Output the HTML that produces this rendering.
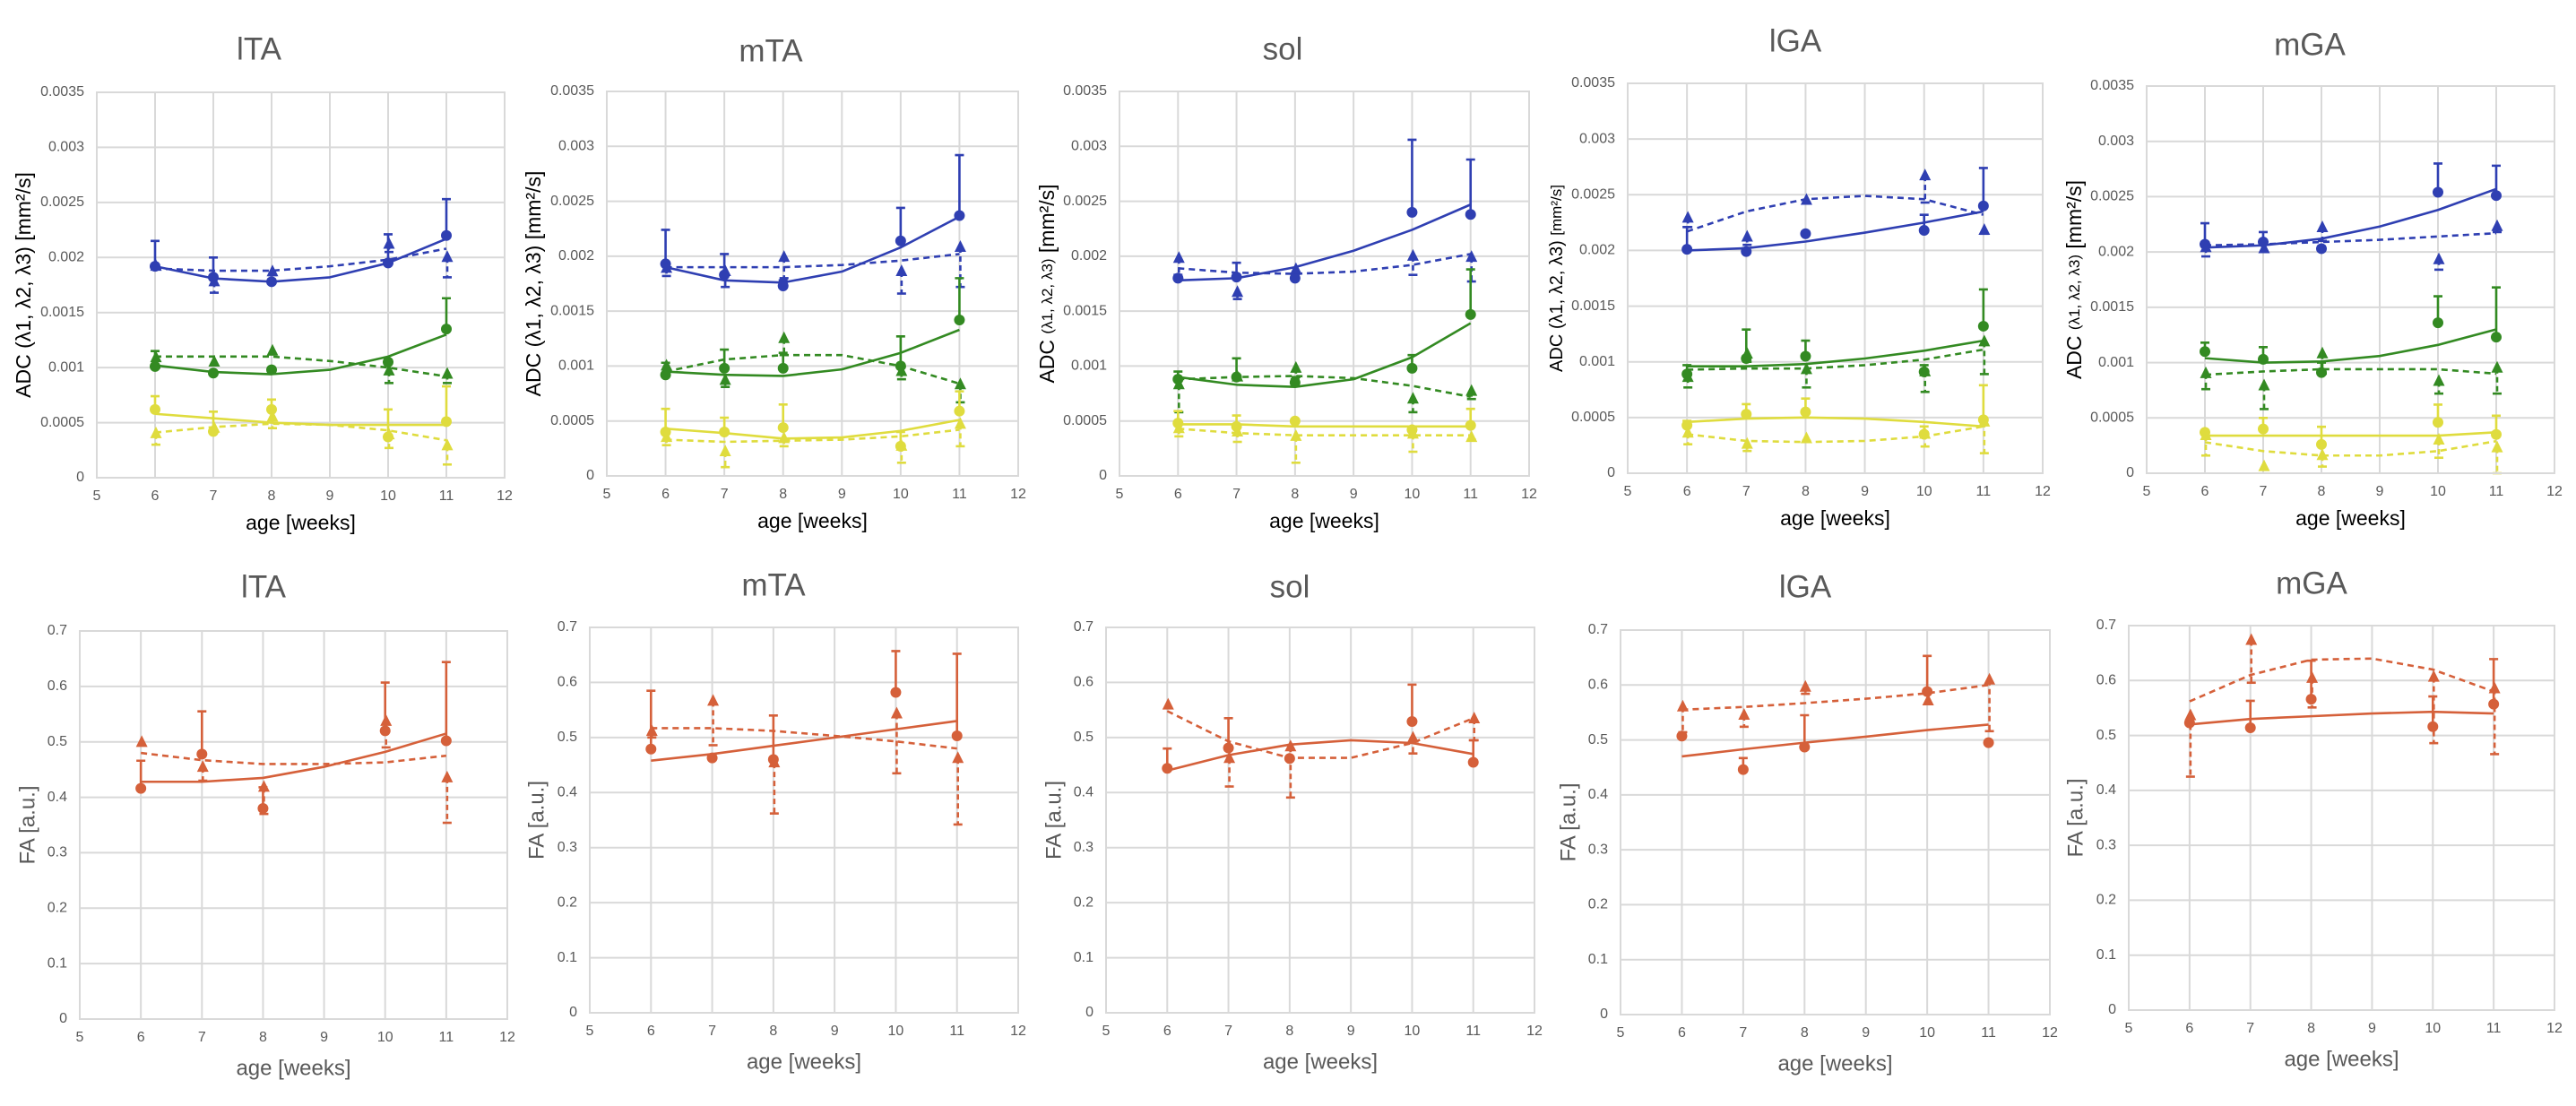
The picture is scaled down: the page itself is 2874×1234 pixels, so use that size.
<!DOCTYPE html>
<html><head><meta charset="utf-8"><title>ADC and FA vs age</title>
<style>
html,body{margin:0;padding:0;background:#fff;}
svg{display:block;font-family:"Liberation Sans",sans-serif;}
</style></head>
<body>
<svg id="fig" xmlns="http://www.w3.org/2000/svg" width="2874" height="1234" viewBox="0 0 2874 1234"></svg>
<script>
// ---------- shared data ----------
const ages = [6, 7, 8, 10, 11];
const fitAges = [6, 7, 8, 9, 10, 11];
const xTicks = [5, 6, 7, 8, 9, 10, 11, 12];
const adcTickLabels = ["0", "0.0005", "0.001", "0.0015", "0.002", "0.0025", "0.003", "0.0035"];
const faTickLabels = ["0", "0.1", "0.2", "0.3", "0.4", "0.5", "0.6", "0.7"];
const muscles = ["lTA", "mTA", "sol", "lGA", "mGA"];

// ADC values in 10^-3 mm²/s
const lTA_blue_circ = [1.92, 1.82, 1.78, 1.95, 2.20];
const lTA_blue_circHi = [2.15, 2.00, 1.80, 2.21, 2.53];
const lTA_blue_tri = [1.92, 1.78, 1.87, 2.12, 2.00];
const lTA_blue_triLo = [1.90, 1.68, 1.84, 2.05, 1.82];
const lTA_blue_fitC = [1.92, 1.81, 1.78, 1.82, 1.95, 2.17];
const lTA_blue_fitT = [1.90, 1.88, 1.88, 1.92, 1.98, 2.08];
const lTA_green_circ = [1.01, 0.95, 0.98, 1.05, 1.35];
const lTA_green_circHi = [1.15, 0.97, 1.00, 1.07, 1.63];
const lTA_green_tri = [1.09, 1.05, 1.15, 0.97, 0.94];
const lTA_green_triLo = [1.00, 1.02, 1.12, 0.86, 0.86];
const lTA_green_fitC = [1.02, 0.96, 0.94, 0.98, 1.10, 1.30];
const lTA_green_fitT = [1.10, 1.10, 1.10, 1.06, 1.00, 0.92];
const lTA_yellow_circ = [0.62, 0.42, 0.62, 0.37, 0.51];
const lTA_yellow_circHi = [0.74, 0.60, 0.71, 0.62, 0.83];
const lTA_yellow_tri = [0.40, 0.45, 0.55, 0.39, 0.29];
const lTA_yellow_triLo = [0.30, 0.42, 0.45, 0.27, 0.12];
const lTA_yellow_fitC = [0.58, 0.54, 0.50, 0.48, 0.48, 0.48];
const lTA_yellow_fitT = [0.41, 0.46, 0.49, 0.48, 0.43, 0.34];
const mTA_blue_circ = [1.93, 1.83, 1.73, 2.14, 2.37];
const mTA_blue_circHi = [2.24, 2.02, 1.78, 2.44, 2.92];
const mTA_blue_tri = [1.89, 1.86, 1.99, 1.86, 2.08];
const mTA_blue_triLo = [1.82, 1.72, 1.80, 1.66, 1.72];
const mTA_blue_fitC = [1.90, 1.78, 1.76, 1.86, 2.08, 2.36];
const mTA_blue_fitT = [1.90, 1.90, 1.90, 1.92, 1.96, 2.02];
const mTA_green_circ = [0.92, 0.98, 0.98, 1.00, 1.42];
const mTA_green_circHi = [1.03, 1.15, 1.12, 1.27, 1.80];
const mTA_green_tri = [1.00, 0.87, 1.25, 0.95, 0.83];
const mTA_green_triLo = [0.97, 0.81, 1.10, 0.88, 0.67];
const mTA_green_fitC = [0.95, 0.92, 0.91, 0.97, 1.12, 1.33];
const mTA_green_fitT = [0.95, 1.06, 1.10, 1.10, 1.00, 0.84];
const mTA_yellow_circ = [0.40, 0.40, 0.44, 0.27, 0.59];
const mTA_yellow_circHi = [0.61, 0.53, 0.65, 0.40, 0.77];
const mTA_yellow_tri = [0.35, 0.22, 0.34, 0.27, 0.47];
const mTA_yellow_triLo = [0.28, 0.08, 0.27, 0.12, 0.27];
const mTA_yellow_fitC = [0.43, 0.39, 0.34, 0.35, 0.41, 0.51];
const mTA_yellow_fitT = [0.33, 0.31, 0.32, 0.33, 0.36, 0.42];
const sol_blue_circ = [1.80, 1.81, 1.80, 2.40, 2.38];
const sol_blue_circHi = [1.83, 1.94, 1.82, 3.06, 2.88];
const sol_blue_tri = [1.98, 1.67, 1.88, 2.00, 1.99];
const sol_blue_triLo = [1.79, 1.61, 1.84, 1.83, 1.77];
const sol_blue_fitC = [1.78, 1.80, 1.90, 2.05, 2.24, 2.47];
const sol_blue_fitT = [1.89, 1.85, 1.84, 1.86, 1.92, 2.02];
const sol_green_circ = [0.88, 0.90, 0.85, 0.98, 1.47];
const sol_green_circHi = [0.95, 1.07, 0.88, 1.10, 1.88];
const sol_green_tri = [0.83, 0.90, 0.98, 0.70, 0.77];
const sol_green_triLo = [0.58, 0.88, 0.90, 0.58, 0.70];
const sol_green_fitC = [0.90, 0.83, 0.81, 0.88, 1.08, 1.39];
const sol_green_fitT = [0.88, 0.90, 0.91, 0.89, 0.82, 0.72];
const sol_yellow_circ = [0.48, 0.45, 0.50, 0.42, 0.46];
const sol_yellow_circHi = [0.59, 0.55, 0.50, 0.45, 0.61];
const sol_yellow_tri = [0.43, 0.40, 0.36, 0.38, 0.35];
const sol_yellow_triLo = [0.36, 0.31, 0.12, 0.22, 0.33];
const sol_yellow_fitC = [0.47, 0.47, 0.45, 0.45, 0.45, 0.45];
const sol_yellow_fitT = [0.43, 0.39, 0.37, 0.37, 0.37, 0.37];
const lGA_blue_circ = [2.01, 1.99, 2.15, 2.18, 2.40];
const lGA_blue_circHi = [2.21, 2.02, 2.17, 2.32, 2.74];
const lGA_blue_tri = [2.29, 2.12, 2.45, 2.67, 2.18];
const lGA_blue_triLo = [2.21, 2.05, 2.43, 2.43, 2.15];
const lGA_blue_fitC = [2.00, 2.02, 2.08, 2.16, 2.25, 2.35];
const lGA_blue_fitT = [2.17, 2.35, 2.46, 2.49, 2.46, 2.32];
const lGA_green_circ = [0.89, 1.03, 1.05, 0.91, 1.32];
const lGA_green_circHi = [0.97, 1.29, 1.19, 0.97, 1.65];
const lGA_green_tri = [0.86, 1.07, 0.93, 0.91, 1.18];
const lGA_green_triLo = [0.77, 1.00, 0.77, 0.73, 0.89];
const lGA_green_fitC = [0.96, 0.96, 0.98, 1.03, 1.10, 1.19];
const lGA_green_fitT = [0.93, 0.94, 0.94, 0.97, 1.02, 1.11];
const lGA_yellow_circ = [0.43, 0.53, 0.55, 0.35, 0.48];
const lGA_yellow_circHi = [0.47, 0.62, 0.67, 0.42, 0.79];
const lGA_yellow_tri = [0.36, 0.26, 0.31, 0.35, 0.46];
const lGA_yellow_triLo = [0.26, 0.20, 0.29, 0.24, 0.18];
const lGA_yellow_fitC = [0.46, 0.49, 0.50, 0.49, 0.46, 0.42];
const lGA_yellow_fitT = [0.35, 0.29, 0.28, 0.29, 0.33, 0.42];
const mGA_blue_circ = [2.07, 2.09, 2.03, 2.54, 2.51];
const mGA_blue_circHi = [2.26, 2.18, 2.05, 2.80, 2.78];
const mGA_blue_tri = [2.04, 2.03, 2.22, 1.93, 2.23];
const mGA_blue_triLo = [1.96, 2.00, 2.10, 1.84, 2.18];
const mGA_blue_fitC = [2.04, 2.06, 2.12, 2.23, 2.38, 2.57];
const mGA_blue_fitT = [2.06, 2.07, 2.09, 2.11, 2.14, 2.17];
const mGA_green_circ = [1.10, 1.03, 0.91, 1.36, 1.23];
const mGA_green_circHi = [1.18, 1.14, 1.00, 1.60, 1.68];
const mGA_green_tri = [0.90, 0.79, 1.08, 0.83, 0.95];
const mGA_green_triLo = [0.76, 0.58, 0.90, 0.72, 0.72];
const mGA_green_fitC = [1.04, 1.00, 1.01, 1.06, 1.16, 1.30];
const mGA_green_fitT = [0.89, 0.92, 0.94, 0.94, 0.94, 0.90];
const mGA_yellow_circ = [0.37, 0.40, 0.26, 0.46, 0.35];
const mGA_yellow_circHi = [0.37, 0.50, 0.42, 0.62, 0.52];
const mGA_yellow_tri = [0.34, 0.06, 0.16, 0.30, 0.23];
const mGA_yellow_triLo = [0.16, 0.06, 0.06, 0.14, 0.00];
const mGA_yellow_fitC = [0.34, 0.34, 0.34, 0.34, 0.34, 0.37];
const mGA_yellow_fitT = [0.28, 0.20, 0.16, 0.16, 0.20, 0.29];

// FA values
const lTA_fa_circ = [0.416, 0.478, 0.380, 0.520, 0.502];
const lTA_fa_circHi = [0.466, 0.555, 0.418, 0.607, 0.644];
const lTA_fa_tri = [0.499, 0.454, 0.418, 0.537, 0.435];
const lTA_fa_triLo = [0.499, 0.430, 0.370, 0.490, 0.354];
const lTA_fa_fitC = [0.428, 0.428, 0.435, 0.455, 0.482, 0.515];
const lTA_fa_fitT = [0.480, 0.467, 0.460, 0.460, 0.463, 0.475];
const mTA_fa_circ = [0.479, 0.463, 0.460, 0.582, 0.503];
const mTA_fa_circHi = [0.585, 0.463, 0.540, 0.657, 0.652];
const mTA_fa_tri = [0.511, 0.566, 0.454, 0.543, 0.462];
const mTA_fa_triLo = [0.500, 0.486, 0.362, 0.435, 0.342];
const mTA_fa_fitC = [0.458, 0.470, 0.485, 0.500, 0.515, 0.530];
const mTA_fa_fitT = [0.517, 0.517, 0.512, 0.503, 0.493, 0.480];
const sol_fa_circ = [0.444, 0.481, 0.462, 0.529, 0.455];
const sol_fa_circHi = [0.480, 0.535, 0.462, 0.596, 0.495];
const sol_fa_tri = [0.559, 0.462, 0.483, 0.499, 0.534];
const sol_fa_triLo = [0.559, 0.411, 0.391, 0.471, 0.495];
const sol_fa_fitC = [0.440, 0.468, 0.487, 0.495, 0.490, 0.470];
const sol_fa_fitT = [0.548, 0.493, 0.463, 0.463, 0.490, 0.535];
const lGA_fa_circ = [0.507, 0.446, 0.487, 0.588, 0.495];
const lGA_fa_circHi = [0.507, 0.467, 0.545, 0.653, 0.495];
const lGA_fa_tri = [0.560, 0.545, 0.596, 0.571, 0.609];
const lGA_fa_triLo = [0.514, 0.524, 0.584, 0.571, 0.516];
const lGA_fa_fitC = [0.470, 0.483, 0.495, 0.506, 0.518, 0.528];
const lGA_fa_fitT = [0.555, 0.560, 0.567, 0.575, 0.585, 0.600];
const mGA_fa_circ = [0.523, 0.514, 0.566, 0.516, 0.557];
const mGA_fa_circHi = [0.523, 0.563, 0.636, 0.571, 0.639];
const mGA_fa_tri = [0.536, 0.673, 0.604, 0.606, 0.585];
const mGA_fa_triLo = [0.425, 0.596, 0.551, 0.486, 0.466];
const mGA_fa_fitC = [0.520, 0.530, 0.535, 0.540, 0.543, 0.540];
const mGA_fa_fitT = [0.562, 0.610, 0.638, 0.640, 0.620, 0.580];

// ---------- layout (pixel geometry, not data) ----------
const topLayout = [
  {x0:108, x1:563, y0:103, y1:533, tx:289, ty:57, ax:28, style:"full"},
  {x0:677, x1:1136, y0:102, y1:531, tx:860, ty:59, ax:597, style:"full"},
  {x0:1249, x1:1706, y0:102, y1:531, tx:1431, ty:57, ax:1170, style:"mixed"},
  {x0:1816, x1:2279, y0:93, y1:528, tx:2003, ty:48, ax:1738, style:"small"},
  {x0:2395, x1:2850, y0:96, y1:528, tx:2577, ty:52, ax:2316, style:"mixed"}
];
const botLayout = [
  {x0:89, x1:566, y0:704, y1:1137, tx:294, ty:657, ax:32},
  {x0:658, x1:1136, y0:700, y1:1130, tx:863, ty:655, ax:600},
  {x0:1234, x1:1712, y0:700, y1:1130, tx:1439, ty:657, ax:1177},
  {x0:1808, x1:2287, y0:703, y1:1132, tx:2014, ty:657, ax:1751},
  {x0:2375, x1:2850, y0:698, y1:1127, tx:2579, ty:653, ax:2317}
];
const COLORS = {blue:"#2f3fb2", green:"#338a22", yellow:"#dfdc3e", fa:"#d5603a"};

const svg = document.getElementById('fig');
const NS = "http://www.w3.org/2000/svg";
function mk(tag, attrs, parent) {
  const e = document.createElementNS(NS, tag);
  for (const k in attrs) e.setAttribute(k, attrs[k]);
  (parent || svg).appendChild(e);
  return e;
}

function drawPanel(L, idx, yMax, nTicks, tickLabels, isTop, seriesList) {
  const g = mk('g', {});
  
  
  const sx = v => L.x0 + (v - 5) / 7 * (L.x1 - L.x0);
  const sy = v => L.y1 - v / yMax * (L.y1 - L.y0);
  const grid = mk('g', {}, g);
  
  
  for (let i = 0; i < nTicks; i++) {
    const v = yMax * i / (nTicks - 1);
    mk('line', {x1:L.x0, x2:L.x1, y1:sy(v), y2:sy(v), stroke:"#d9d9d9", "stroke-width":2}, grid);
    const t = mk('text', {x:L.x0 - 14, y:sy(v), "text-anchor":"end", "dominant-baseline":"middle", "font-size":16, fill:"#595959"}, g);
    t.textContent = tickLabels[i];
    
    
  }
  xTicks.forEach(v => {
    mk('line', {x1:sx(v), x2:sx(v), y1:L.y0, y2:L.y1, stroke:"#d9d9d9", "stroke-width":2}, grid);
    const t = mk('text', {x:sx(v), y:L.y1 + 21, "text-anchor":"middle", "dominant-baseline":"middle", "font-size":16, fill:"#595959"}, g);
    t.textContent = String(v);
    
    
  });
  const ti = mk('text', {x:L.tx, y:L.ty, "text-anchor":"middle", "dominant-baseline":"middle", "font-size":35, fill:"#595959"}, g);
  ti.textContent = muscles[idx];
  
  
  const xt = mk('text', {x:(L.x0 + L.x1) / 2, y:L.y1 + (isTop ? 52 : 56), "text-anchor":"middle", "dominant-baseline":"middle", "font-size":isTop ? 23 : 24, fill:isTop ? "#000" : "#595959"}, g);
  xt.textContent = "age [weeks]";
  
  
  const cy = (L.y0 + L.y1) / 2;
  const yt = mk('text', {x:0, y:0, "text-anchor":"middle", "dominant-baseline":"middle", transform:`translate(${L.ax},${cy}) rotate(-90)`, fill:isTop ? "#000" : "#595959", "font-size":isTop ? (L.style === "small" ? 20 : 23) : 24}, g);
  
  
  if (!isTop) yt.textContent = "FA [a.u.]";
  else if (L.style === "mixed") {
    const a = mk('tspan', {}, yt); a.textContent = "ADC ";
    const b = mk('tspan', {"font-size":17}, yt); b.textContent = "(λ1, λ2, λ3)";
    const c = mk('tspan', {}, yt); c.textContent = " [mm²/s]";
  } else if (L.style === "small") {
    const a = mk('tspan', {}, yt); a.textContent = "ADC (λ1, λ2, λ3) ";
    const c = mk('tspan', {"font-size":17}, yt); c.textContent = "[mm²/s]";
  } else yt.textContent = "ADC (λ1, λ2, λ3) [mm²/s]";

  seriesList.forEach(s => {
    const sg = mk('g', {}, g);
    
    
    const ptsC = fitAges.map((a, i) => sx(a) + ',' + sy(s.fitC[i])).join(' ');
    const lc = mk('polyline', {points:ptsC, fill:"none", stroke:s.color, "stroke-width":2.6, "stroke-linejoin":"round"}, sg);
    
    
    const ptsT = fitAges.map((a, i) => sx(a) + ',' + sy(s.fitT[i])).join(' ');
    const lt = mk('polyline', {points:ptsT, fill:"none", stroke:s.color, "stroke-width":2.6, "stroke-dasharray":"7 5"}, sg);
    
    
    ages.forEach((a, i) => {
      const x = sx(a);
      const yc = sy(s.circ[i]), yh = sy(s.circHi[i]);
      if (Math.abs(yc - yh) > 1) {
        const eb = mk('path', {d:`M${x},${yc}V${yh}M${x - 5},${yh}H${x + 5}`, stroke:s.color, "stroke-width":2.6, fill:"none"}, sg);
        
        
      }
      const yt2 = sy(s.tri[i]), yl = sy(s.triLo[i]);
      if (Math.abs(yt2 - yl) > 1) {
        const eb2 = mk('path', {d:`M${x + 1},${yt2}V${yl}`, stroke:s.color, "stroke-width":2.6, "stroke-dasharray":"6 4", fill:"none"}, sg);
        
        
        const cap = mk('path', {d:`M${x - 4},${yl}H${x + 6}`, stroke:s.color, "stroke-width":2.6}, sg);
        
        
      }
      const c = mk('circle', {cx:x, cy:yc, r:6, fill:s.color}, sg);
      
      
      const tr = mk('path', {d:`M${x + 1},${yt2 - 8}L${x + 7.5},${yt2 + 5}L${x - 5.5},${yt2 + 5}Z`, fill:s.color}, sg);
      
      
    });
  });
  const fr = mk('rect', {x:L.x0, y:L.y0, width:L.x1 - L.x0, height:L.y1 - L.y0, fill:"none", stroke:"#d9d9d9", "stroke-width":2}, g);
  
  
}

const adcSets = [
  [ {name:"blue",color:COLORS.blue,circ:lTA_blue_circ,circHi:lTA_blue_circHi,tri:lTA_blue_tri,triLo:lTA_blue_triLo,fitC:lTA_blue_fitC,fitT:lTA_blue_fitT},
    {name:"green",color:COLORS.green,circ:lTA_green_circ,circHi:lTA_green_circHi,tri:lTA_green_tri,triLo:lTA_green_triLo,fitC:lTA_green_fitC,fitT:lTA_green_fitT},
    {name:"yellow",color:COLORS.yellow,circ:lTA_yellow_circ,circHi:lTA_yellow_circHi,tri:lTA_yellow_tri,triLo:lTA_yellow_triLo,fitC:lTA_yellow_fitC,fitT:lTA_yellow_fitT} ],
  [ {name:"blue",color:COLORS.blue,circ:mTA_blue_circ,circHi:mTA_blue_circHi,tri:mTA_blue_tri,triLo:mTA_blue_triLo,fitC:mTA_blue_fitC,fitT:mTA_blue_fitT},
    {name:"green",color:COLORS.green,circ:mTA_green_circ,circHi:mTA_green_circHi,tri:mTA_green_tri,triLo:mTA_green_triLo,fitC:mTA_green_fitC,fitT:mTA_green_fitT},
    {name:"yellow",color:COLORS.yellow,circ:mTA_yellow_circ,circHi:mTA_yellow_circHi,tri:mTA_yellow_tri,triLo:mTA_yellow_triLo,fitC:mTA_yellow_fitC,fitT:mTA_yellow_fitT} ],
  [ {name:"blue",color:COLORS.blue,circ:sol_blue_circ,circHi:sol_blue_circHi,tri:sol_blue_tri,triLo:sol_blue_triLo,fitC:sol_blue_fitC,fitT:sol_blue_fitT},
    {name:"green",color:COLORS.green,circ:sol_green_circ,circHi:sol_green_circHi,tri:sol_green_tri,triLo:sol_green_triLo,fitC:sol_green_fitC,fitT:sol_green_fitT},
    {name:"yellow",color:COLORS.yellow,circ:sol_yellow_circ,circHi:sol_yellow_circHi,tri:sol_yellow_tri,triLo:sol_yellow_triLo,fitC:sol_yellow_fitC,fitT:sol_yellow_fitT} ],
  [ {name:"blue",color:COLORS.blue,circ:lGA_blue_circ,circHi:lGA_blue_circHi,tri:lGA_blue_tri,triLo:lGA_blue_triLo,fitC:lGA_blue_fitC,fitT:lGA_blue_fitT},
    {name:"green",color:COLORS.green,circ:lGA_green_circ,circHi:lGA_green_circHi,tri:lGA_green_tri,triLo:lGA_green_triLo,fitC:lGA_green_fitC,fitT:lGA_green_fitT},
    {name:"yellow",color:COLORS.yellow,circ:lGA_yellow_circ,circHi:lGA_yellow_circHi,tri:lGA_yellow_tri,triLo:lGA_yellow_triLo,fitC:lGA_yellow_fitC,fitT:lGA_yellow_fitT} ],
  [ {name:"blue",color:COLORS.blue,circ:mGA_blue_circ,circHi:mGA_blue_circHi,tri:mGA_blue_tri,triLo:mGA_blue_triLo,fitC:mGA_blue_fitC,fitT:mGA_blue_fitT},
    {name:"green",color:COLORS.green,circ:mGA_green_circ,circHi:mGA_green_circHi,tri:mGA_green_tri,triLo:mGA_green_triLo,fitC:mGA_green_fitC,fitT:mGA_green_fitT},
    {name:"yellow",color:COLORS.yellow,circ:mGA_yellow_circ,circHi:mGA_yellow_circHi,tri:mGA_yellow_tri,triLo:mGA_yellow_triLo,fitC:mGA_yellow_fitC,fitT:mGA_yellow_fitT} ]
];
const faSets = [
  [{name:"fa",color:COLORS.fa,circ:lTA_fa_circ,circHi:lTA_fa_circHi,tri:lTA_fa_tri,triLo:lTA_fa_triLo,fitC:lTA_fa_fitC,fitT:lTA_fa_fitT}],
  [{name:"fa",color:COLORS.fa,circ:mTA_fa_circ,circHi:mTA_fa_circHi,tri:mTA_fa_tri,triLo:mTA_fa_triLo,fitC:mTA_fa_fitC,fitT:mTA_fa_fitT}],
  [{name:"fa",color:COLORS.fa,circ:sol_fa_circ,circHi:sol_fa_circHi,tri:sol_fa_tri,triLo:sol_fa_triLo,fitC:sol_fa_fitC,fitT:sol_fa_fitT}],
  [{name:"fa",color:COLORS.fa,circ:lGA_fa_circ,circHi:lGA_fa_circHi,tri:lGA_fa_tri,triLo:lGA_fa_triLo,fitC:lGA_fa_fitC,fitT:lGA_fa_fitT}],
  [{name:"fa",color:COLORS.fa,circ:mGA_fa_circ,circHi:mGA_fa_circHi,tri:mGA_fa_tri,triLo:mGA_fa_triLo,fitC:mGA_fa_fitC,fitT:mGA_fa_fitT}]
];

for (let i = 0; i < 5; i++) {
  drawPanel(topLayout[i], i, 3.5, 8, adcTickLabels, true, adcSets[i]);
  drawPanel(botLayout[i], i, 0.7, 8, faTickLabels, false, faSets[i]);
}
</script>
</body></html>
